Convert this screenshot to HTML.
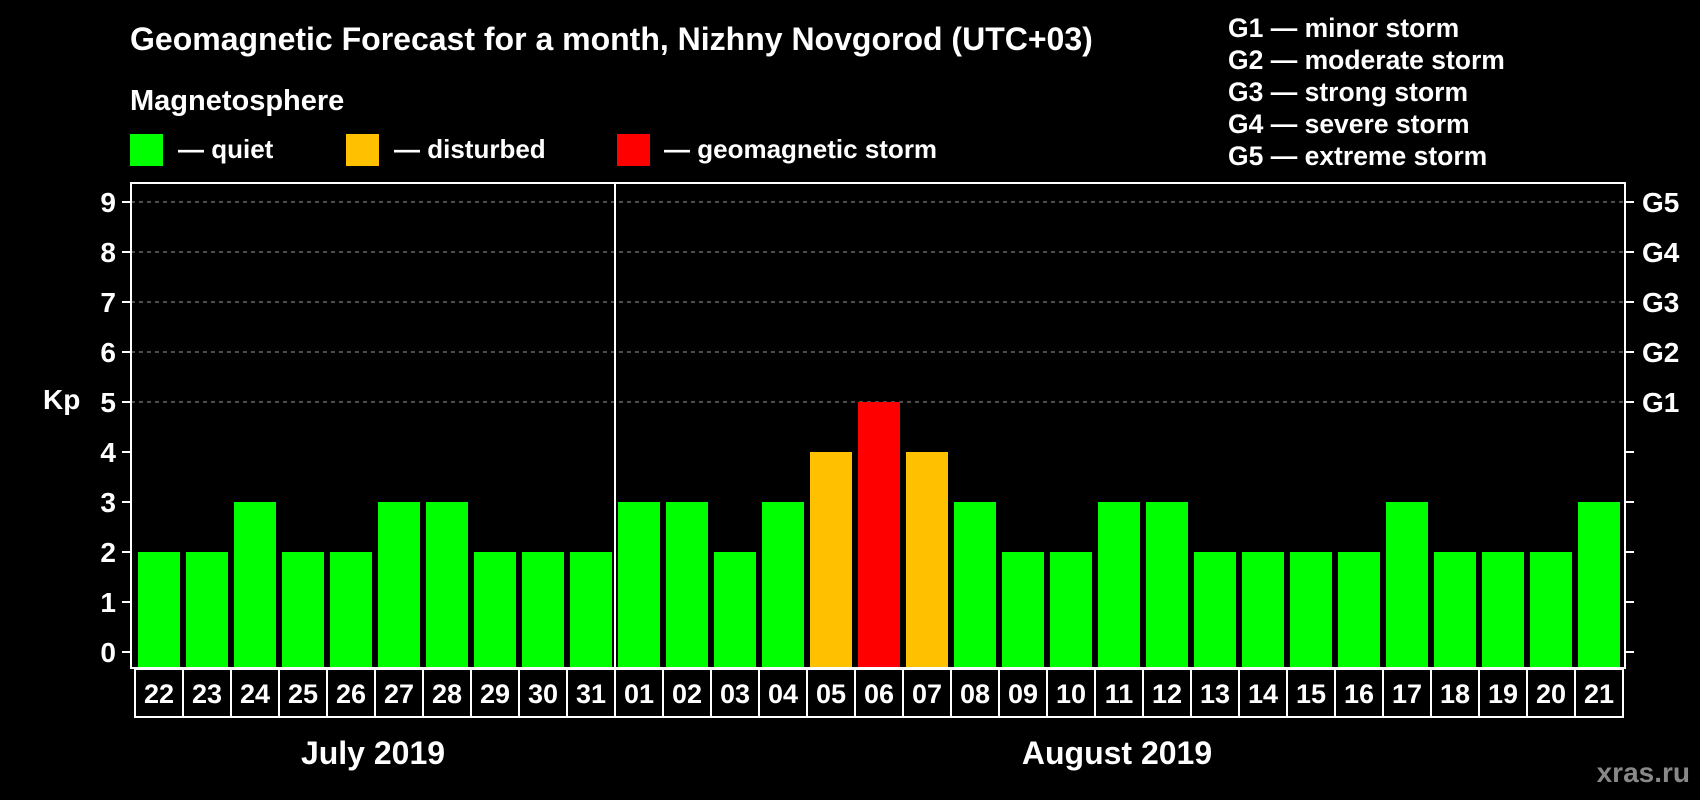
<!DOCTYPE html>
<html><head><meta charset="utf-8"><style>
body{margin:0;background:#000;width:1700px;height:800px;overflow:hidden}
svg{display:block;font-family:"Liberation Sans",sans-serif;font-weight:bold}
</style></head><body>
<svg id="c" width="1700" height="800">
<text x="130" y="50" fill="#fff" font-size="32">Geomagnetic Forecast for a month, Nizhny Novgorod (UTC+03)</text>
<text x="130" y="110" fill="#fff" font-size="29">Magnetosphere</text>
<rect x="130" y="134" width="33" height="32" fill="#00ff00"/>
<text x="178" y="158" fill="#fff" font-size="26">— quiet</text>
<rect x="346" y="134" width="33" height="32" fill="#ffc000"/>
<text x="394" y="158" fill="#fff" font-size="26">— disturbed</text>
<rect x="617" y="134" width="33" height="32" fill="#ff0000"/>
<text x="664" y="158" fill="#fff" font-size="26">— geomagnetic storm</text>
<g fill="#fff" font-size="26.5">
<text x="1228" y="37">G1 — minor storm</text>
<text x="1228" y="69">G2 — moderate storm</text>
<text x="1228" y="101">G3 — strong storm</text>
<text x="1228" y="133">G4 — severe storm</text>
<text x="1228" y="165">G5 — extreme storm</text>
</g>
<text x="43" y="409" fill="#fff" font-size="28">Kp</text>
<text x="373" y="764" fill="#fff" font-size="32" text-anchor="middle">July 2019</text>
<text x="1117" y="764" fill="#fff" font-size="32" text-anchor="middle">August 2019</text>
<text x="1690" y="782" fill="#888" font-size="28" text-anchor="end">xras.ru</text>
<g id="g"></g>
</svg>
<script>
const days=["22","23","24","25","26","27","28","29","30","31","01","02","03","04","05","06","07","08","09","10","11","12","13","14","15","16","17","18","19","20","21"];
const kpValues=[2,2,3,2,2,3,3,2,2,2,3,3,2,3,4,5,4,3,2,2,3,3,2,2,2,2,3,2,2,2,3];
const yTicks=[0,1,2,3,4,5,6,7,8,9];
const gLabels={5:"G1",6:"G2",7:"G3",8:"G4",9:"G5"};
const NS="http://www.w3.org/2000/svg",g=document.getElementById('g');
const y=v=>652-v*50, xc=i=>159+i*48;
function mk(t,a){const e=document.createElementNS(NS,t);for(const k in a)e.setAttribute(k,a[k]);g.appendChild(e);return e;}
yTicks.forEach(v=>{
 if(v>=5){const l=mk('line',{x1:131,x2:1625,y1:y(v),y2:y(v),stroke:'#999','stroke-dasharray':'4,4','stroke-width':1});
 
 }
 const t1=mk('line',{x1:122,x2:131,y1:y(v),y2:y(v),stroke:'#fff','stroke-width':2});
 
 
 const t2=mk('line',{x1:1625,x2:1634,y1:y(v),y2:y(v),stroke:'#fff','stroke-width':2});
 
 
 const tl=mk('text',{x:116,y:y(v)+10,fill:'#fff','font-size':28,'text-anchor':'end'});tl.textContent=v;
 
 
 if(gLabels[v]){const gl=mk('text',{x:1642,y:y(v)+10,fill:'#fff','font-size':28});gl.textContent=gLabels[v];
 
 }
});
kpValues.forEach((v,i)=>{
 const col=v>=5?'#ff0000':v>=4?'#ffc000':'#00ff00';
 const b=mk('rect',{x:xc(i)-21,y:y(v),width:42,height:668-y(v),fill:col});
 
 
 const c=mk('rect',{x:xc(i)-24,y:669,width:48,height:48,fill:'none',stroke:'#fff','stroke-width':2});
 
 
 const t=mk('text',{x:xc(i),y:703,fill:'#fff','font-size':27,'text-anchor':'middle'});t.textContent=days[i];
 
 
});
const f=mk('rect',{x:131,y:183,width:1494,height:485,fill:'none',stroke:'#fff','stroke-width':2});


const s=mk('line',{x1:xc(9.5),x2:xc(9.5),y1:183,y2:668,stroke:'#fff','stroke-width':2});


</script>
</body></html>
